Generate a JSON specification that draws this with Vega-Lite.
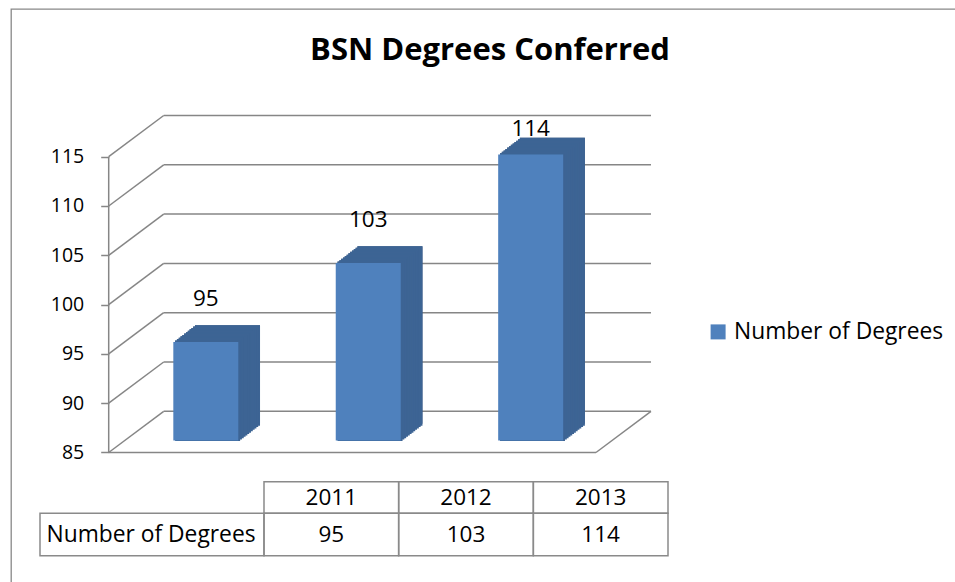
{
  "$schema": "https://vega.github.io/schema/vega-lite/v6.json",
  "width": 955,
  "height": 582,
  "autosize": {"type": "fit", "contains": "padding"},
  "padding": {"left": 11, "top": 9, "right": -3, "bottom": -3},
  "background": "white",
  "title": {"text": "BSN Degrees Conferred", "anchor": "middle", "frame": "group", "dx": 5.5, "offset": -82, "font": "Open Sans", "fontSize": 31, "fontWeight": "bold", "color": "black", "baseline": "alphabetic"},
  "config": {"view": {"stroke": "#888888", "strokeWidth": 1.3}},
  "datasets": {
    "bars": [
      {"year": 2011, "value": 95, "series": "Number of Degrees"},
      {"year": 2012, "value": 103, "series": "Number of Degrees"},
      {"year": 2013, "value": 114, "series": "Number of Degrees"}
    ],
    "ticks": [{"value": 85}, {"value": 90}, {"value": 95}, {"value": 100}, {"value": 105}, {"value": 110}, {"value": 115}],
    "series": [{"series": "Number of Degrees"}]
  },
  "layer": [
    {
      "encoding": {
        "y": {"field": "value", "type": "quantitative", "scale": {"domain": [71.56, 129.98], "nice": false, "zero": false, "padding": 0},
          "axis": {"values": [85, 90, 95, 100, 105, 110, 115], "domain": false, "grid": false, "offset": -97.7, "tickSize": 8, "tickColor": "#868686", "tickWidth": 1.5, "labelPadding": 17, "labelFont": "Open Sans", "labelFontSize": 19.5, "labelColor": "black", "title": null}}
      },
      "layer": [
        {
          "data": {"name": "ticks"},
          "encoding": {
            "x": {"datum": 2010.5, "type": "quantitative", "scale": {"domain": [2009.89851, 2015.72872], "nice": false, "zero": false, "padding": 0}, "axis": null}
          },
          "layer": [
            {
              "mark": {"type": "rule", "xOffset": 55, "x2Offset": 55, "yOffset": -41.2, "y2Offset": -41.2, "stroke": "#868686", "strokeWidth": 1.5},
              "encoding": {"x2": {"datum": 2013.5}, "y2": {"field": "value"}}
            },
            {
              "mark": {"type": "rule", "x2Offset": 55, "y2Offset": -41.2, "stroke": "#868686", "strokeWidth": 1.5},
              "encoding": {"x2": {"datum": 2010.5}, "y2": {"field": "value"}}
            },
            {
              "transform": [{"filter": "datum.value == 85"}],
              "mark": {"type": "rule", "stroke": "#868686", "strokeWidth": 1.5},
              "encoding": {"x2": {"datum": 2013.5}}
            },
            {
              "transform": [{"filter": "datum.value == 85"}],
              "mark": {"type": "rule", "x2Offset": 55, "y2Offset": -41.2, "stroke": "#868686", "strokeWidth": 1.5},
              "encoding": {"x": {"datum": 2013.5}, "x2": {"datum": 2013.5}, "y2": {"field": "value"}}
            },
            {
              "transform": [{"filter": "datum.value == 85"}],
              "mark": {"type": "rule", "stroke": "#868686", "strokeWidth": 1.5},
              "encoding": {"y2": {"datum": 115}}
            }
          ]
        },
        {
          "data": {"name": "bars"},
          "encoding": {
            "x": {"field": "year", "type": "quantitative", "scale": {"domain": [2009.89851, 2015.72872], "nice": false, "zero": false, "padding": 0}, "axis": null},
            "y2": {"datum": 85}
          },
          "layer": [
            {"mark": {"type": "bar", "width": 65, "fill": "#32507A", "xOffset": 37.60, "yOffset": -28.70, "y2Offset": -28.70}},
            {"mark": {"type": "bar", "width": 65, "fill": "#32507A", "xOffset": 35.79, "yOffset": -27.31, "y2Offset": -27.31}},
            {"mark": {"type": "bar", "width": 65, "fill": "#32507A", "xOffset": 33.98, "yOffset": -25.92, "y2Offset": -25.92}},
            {"mark": {"type": "bar", "width": 65, "fill": "#32507A", "xOffset": 32.17, "yOffset": -24.53, "y2Offset": -24.53}},
            {"mark": {"type": "bar", "width": 65, "fill": "#32507A", "xOffset": 30.36, "yOffset": -23.14, "y2Offset": -23.14}},
            {"mark": {"type": "bar", "width": 65, "fill": "#32507A", "xOffset": 28.56, "yOffset": -21.74, "y2Offset": -21.74}},
            {"mark": {"type": "bar", "width": 65, "fill": "#32507A", "xOffset": 26.75, "yOffset": -20.35, "y2Offset": -20.35}},
            {"mark": {"type": "bar", "width": 65, "fill": "#32507A", "xOffset": 24.94, "yOffset": -18.96, "y2Offset": -18.96}},
            {"mark": {"type": "bar", "width": 65, "fill": "#32507A", "xOffset": 23.13, "yOffset": -17.57, "y2Offset": -17.57}},
            {"mark": {"type": "bar", "width": 65, "fill": "#32507A", "xOffset": 21.32, "yOffset": -16.18, "y2Offset": -16.18}},
            {"mark": {"type": "bar", "width": 65, "fill": "#32507A", "xOffset": 19.52, "yOffset": -14.78, "y2Offset": -14.78}},
            {"mark": {"type": "bar", "width": 65, "fill": "#32507A", "xOffset": 17.71, "yOffset": -13.39, "y2Offset": -13.39}},
            {"mark": {"type": "bar", "width": 65, "fill": "#3D6494", "xOffset": 37.60, "yOffset": -28.70, "y2Offset": -26.80}, "encoding": {"y2": {"field": "value"}}},
            {"mark": {"type": "bar", "width": 65, "fill": "#3D6494", "xOffset": 35.79, "yOffset": -27.31, "y2Offset": -25.41}, "encoding": {"y2": {"field": "value"}}},
            {"mark": {"type": "bar", "width": 65, "fill": "#3D6494", "xOffset": 33.98, "yOffset": -25.92, "y2Offset": -24.02}, "encoding": {"y2": {"field": "value"}}},
            {"mark": {"type": "bar", "width": 65, "fill": "#3D6494", "xOffset": 32.17, "yOffset": -24.53, "y2Offset": -22.63}, "encoding": {"y2": {"field": "value"}}},
            {"mark": {"type": "bar", "width": 65, "fill": "#3D6494", "xOffset": 30.36, "yOffset": -23.14, "y2Offset": -21.24}, "encoding": {"y2": {"field": "value"}}},
            {"mark": {"type": "bar", "width": 65, "fill": "#3D6494", "xOffset": 28.56, "yOffset": -21.74, "y2Offset": -19.84}, "encoding": {"y2": {"field": "value"}}},
            {"mark": {"type": "bar", "width": 65, "fill": "#3D6494", "xOffset": 26.75, "yOffset": -20.35, "y2Offset": -18.45}, "encoding": {"y2": {"field": "value"}}},
            {"mark": {"type": "bar", "width": 65, "fill": "#3D6494", "xOffset": 24.94, "yOffset": -18.96, "y2Offset": -17.06}, "encoding": {"y2": {"field": "value"}}},
            {"mark": {"type": "bar", "width": 65, "fill": "#3D6494", "xOffset": 23.13, "yOffset": -17.57, "y2Offset": -15.67}, "encoding": {"y2": {"field": "value"}}},
            {"mark": {"type": "bar", "width": 65, "fill": "#3D6494", "xOffset": 21.32, "yOffset": -16.18, "y2Offset": -14.28}, "encoding": {"y2": {"field": "value"}}},
            {"mark": {"type": "bar", "width": 65, "fill": "#3D6494", "xOffset": 19.52, "yOffset": -14.78, "y2Offset": -12.88}, "encoding": {"y2": {"field": "value"}}},
            {"mark": {"type": "bar", "width": 65, "fill": "#3D6494", "xOffset": 17.71, "yOffset": -13.39, "y2Offset": -11.49}, "encoding": {"y2": {"field": "value"}}},
            {
              "mark": {"type": "bar", "width": 65, "xOffset": 15.9, "yOffset": -12, "y2Offset": -12},
              "encoding": {
                "color": {"field": "series", "type": "nominal", "scale": {"range": ["#4F81BD"]},
                  "legend": {"orient": "none", "legendX": 695.7, "legendY": 311.5, "title": null, "padding": 0, "symbolType": "square", "symbolSize": 225, "symbolStrokeWidth": 0, "labelFont": "Open Sans", "labelFontSize": 22.8, "labelColor": "black", "labelOffset": 4.6, "labelLimit": 0}}
              }
            }
          ]
        }
      ]
    },
    {
      "data": {"name": "bars"},
      "mark": {"type": "text", "xOffset": 15.9, "yOffset": 126.7, "baseline": "alphabetic", "font": "Open Sans", "fontSize": 22.5, "color": "black"},
      "encoding": {
        "x": {"field": "year", "type": "quantitative", "scale": {"domain": [2009.89851, 2015.72872], "nice": false, "zero": false, "padding": 0}, "axis": null},
        "y": {"field": "value", "type": "quantitative", "scale": {"domain": [53.84, 112.26], "nice": false, "zero": false, "clamp": true, "padding": 0}, "axis": null},
        "text": {"field": "value", "type": "quantitative"}
      }
    },
    {
      "encoding": {
        "y": {"datum": 0, "type": "quantitative", "scale": {"domain": [-14.9589, 3.26899], "reverse": true, "nice": false, "zero": false, "padding": 0}, "axis": null}
      },
      "layer": [
        {
          "data": {"name": "bars"},
          "encoding": {
            "x": {"field": "year", "type": "quantitative", "scale": {"domain": [2008.62129, 2015.65346], "nice": false, "zero": false, "padding": 0}, "axis": null}
          },
          "layer": [
            {
              "mark": {"type": "bar", "width": 134.667, "fillOpacity": 0, "stroke": "#8a8a8a", "strokeWidth": 1.5},
              "encoding": {"y": {"datum": 0}, "y2": {"datum": 1}}
            },
            {
              "mark": {"type": "text", "baseline": "middle", "font": "Open Sans", "fontSize": 22.5, "color": "black"},
              "encoding": {"y": {"datum": 0.5}, "text": {"field": "year", "type": "nominal"}}
            },
            {
              "mark": {"type": "bar", "width": 134.667, "fillOpacity": 0, "stroke": "#8a8a8a", "strokeWidth": 1.5},
              "encoding": {"y": {"datum": 1}, "y2": {"datum": 2.34177}}
            },
            {
              "mark": {"type": "text", "baseline": "middle", "font": "Open Sans", "fontSize": 22.5, "color": "black"},
              "encoding": {"y": {"datum": 1.67089}, "text": {"field": "value", "type": "quantitative"}}
            }
          ]
        },
        {
          "data": {"name": "series"},
          "encoding": {
            "x": {"datum": 2008.83663, "type": "quantitative", "scale": {"domain": [2008.62129, 2015.65346], "nice": false, "zero": false, "padding": 0}, "axis": null}
          },
          "layer": [
            {
              "mark": {"type": "rect", "fillOpacity": 0, "stroke": "#8a8a8a", "strokeWidth": 1.5},
              "encoding": {"x2": {"datum": 2010.5}, "y": {"datum": 1}, "y2": {"datum": 2.34177}}
            },
            {
              "mark": {"type": "text", "align": "left", "dx": 6.5, "baseline": "middle", "font": "Open Sans", "fontSize": 22.8, "color": "black"},
              "encoding": {"y": {"datum": 1.67089}, "text": {"field": "series", "type": "nominal"}}
            }
          ]
        }
      ]
    }
  ],
  "resolve": {"scale": {"x": "independent", "y": "independent", "color": "independent"}}
}
